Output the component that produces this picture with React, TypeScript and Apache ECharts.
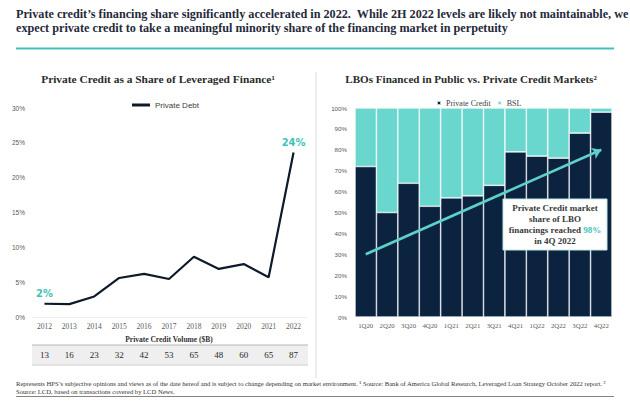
import React, { useEffect, useRef } from "react";
import * as echarts from "echarts";

const years = ["2012", "2013", "2014", "2015", "2016", "2017", "2018", "2019", "2020", "2021", "2022"];
const shareValues = [1.9, 1.85, 2.95, 5.6, 6.2, 5.45, 8.65, 6.9, 7.6, 5.7, 23.6];
const volumes = ["13", "16", "23", "32", "42", "53", "65", "48", "60", "65", "87"];
const quarters = ["1Q20", "2Q20", "3Q20", "4Q20", "1Q21", "2Q21", "3Q21", "4Q21", "1Q22", "2Q22", "3Q22", "4Q22"];
const privateCredit = [72, 50, 64, 53, 57, 58, 63, 79, 77, 76, 88, 98];
const bsl = [28, 50, 36, 47, 43, 42, 37, 21, 23, 24, 12, 2];
const trendStart = 30;
const trendEnd = 80;

const SERIF = "'Liberation Serif', serif";
const SANS = "'Liberation Sans', sans-serif";
const NAVY = "#0c2340";
const TEAL = "#6ad7ce";
const TEAL_TXT = "#3fc2b7";
const GRAY = "#595959";

export default function App() {
  const ref = useRef<HTMLDivElement>(null);
  useEffect(() => {
    const chart = echarts.init(ref.current!, null, { renderer: "svg" });
    const lastIdx = shareValues.length - 1;
    const lineData = shareValues.map((v, i) => {
      if (i === 0 || i === lastIdx) {
        return {
          value: v,
          label: {
            show: true,
            position: "top",
            distance: 5,
            formatter: (p: any) => Math.round(p.value) + "%",
            color: TEAL_TXT,
            fontFamily: "'DejaVu Sans Condensed', 'DejaVu Sans', sans-serif",
            fontWeight: "bold",
            fontSize: 11,
          },
        };
      }
      return v;
    });
    const option: any = {
      animation: false,
      backgroundColor: "#ffffff",
      legend: [
        {
          data: ["Private Debt"],
          left: 127,
          top: 96,
          icon: "rect",
          itemWidth: 18,
          itemHeight: 3,
          textStyle: { fontFamily: SANS, fontSize: 8, color: "#404040" },
        },
        {
          data: ["Private Credit", "BSL"],
          left: 431,
          top: 94,
          icon: "rect",
          itemWidth: 4,
          itemHeight: 4,
          itemGap: 6,
          textStyle: { fontFamily: SERIF, fontSize: 8, color: "#404040" },
        },
      ],
      grid: [
        { left: 32, width: 274, top: 108, bottom: 87 },
        { left: 355, width: 257, top: 108, bottom: 87 },
      ],
      xAxis: [
        {
          type: "category",
          gridIndex: 0,
          data: years,
          z: 10,
          axisTick: { show: false },
          axisLine: { show: true, lineStyle: { color: "#eeeeee" } },
          axisLabel: { fontFamily: SERIF, fontSize: 7.5, color: GRAY, margin: 5 },
          name: "Private Credit Volume ($B)",
          nameLocation: "middle",
          nameGap: 18,
          nameTextStyle: { fontFamily: SERIF, fontSize: 7.5, fontWeight: "bold", color: "#333333" },
        },
        {
          type: "category",
          gridIndex: 0,
          data: volumes,
          position: "bottom",
          offset: 30,
          z: 10,
          axisTick: { show: false },
          axisLine: { show: false },
          axisLabel: { fontFamily: SERIF, fontSize: 9, color: "#2a2a2a", margin: 3 },
        },
        {
          type: "category",
          gridIndex: 1,
          data: quarters,
          axisTick: { show: false },
          axisLine: { show: false },
          axisLabel: { fontFamily: SERIF, fontSize: 6.8, color: GRAY, margin: 5 },
        },
      ],
      yAxis: [
        {
          type: "value",
          gridIndex: 0,
          min: 0,
          max: 30,
          interval: 5,
          axisLabel: { formatter: "{value}%", fontFamily: SANS, fontSize: 6.5, color: GRAY, margin: 7 },
          splitLine: { show: false },
          axisLine: { show: false },
          axisTick: { show: false },
        },
        {
          type: "value",
          gridIndex: 1,
          min: 0,
          max: 100,
          interval: 10,
          axisLabel: { formatter: "{value}%", fontFamily: SANS, fontSize: 6.2, color: GRAY, margin: 8 },
          splitLine: { show: false },
          axisLine: { show: false },
          axisTick: { show: false },
        },
      ],
      series: [
        {
          name: "Private Debt",
          type: "line",
          xAxisIndex: 0,
          yAxisIndex: 0,
          data: lineData,
          symbol: "circle",
          symbolSize: 0.01,
          showSymbol: true,
          color: "#0e1a2b",
          lineStyle: { color: "#0e1a2b", width: 2.2 },
          z: 5,
        },
        {
          name: "Private Credit",
          type: "bar",
          xAxisIndex: 2,
          yAxisIndex: 1,
          stack: "lbo",
          data: privateCredit,
          barCategoryGap: "0%",
          color: NAVY,
          itemStyle: { color: NAVY, borderColor: "rgba(255,255,255,0.75)", borderWidth: 0.7 },
          markLine: {
            silent: true,
            symbol: ["none", "arrow"],
            symbolSize: [9, 9],
            label: { show: false },
            lineStyle: { color: "#5fd0c8", width: 2.6, type: "solid" },
            data: [[{ coord: [quarters[0], trendStart] }, { coord: [quarters[quarters.length - 1], trendEnd] }]],
            z: 6,
          },
        },
        {
          name: "BSL",
          type: "bar",
          xAxisIndex: 2,
          yAxisIndex: 1,
          stack: "lbo",
          data: bsl,
          barCategoryGap: "0%",
          color: TEAL,
          itemStyle: { color: TEAL, borderColor: "rgba(255,255,255,0.75)", borderWidth: 0.7 },
        },
      ],
      graphic: [
        {
          type: "text",
          left: 16,
          top: 7,
          z: 100,
          style: {
            text:
              "Private credit\u2019s financing share significantly accelerated in 2022.  While 2H 2022 levels are likely not maintainable, we\nexpect private credit to take a meaningful minority share of the financing market in perpetuity",
            fontFamily: SERIF,
            fontWeight: "bold",
            fontSize: 12.2,
            lineHeight: 14,
            fill: "#1f2a3a",
          },
        },
        {
          type: "rect",
          z: 100,
          shape: { x: 16, y: 47.5, width: 598, height: 2 },
          style: { fill: "#45bfb8" },
        },
        {
          type: "line",
          z: 100,
          shape: { x1: 316, y1: 72, x2: 316, y2: 378 },
          style: { stroke: "#dcdcdc", lineWidth: 1 },
        },
        {
          type: "text",
          z: 100,
          x: 158,
          y: 79,
          style: {
            text: "Private Credit as a Share of Leveraged Finance\u00b9",
            fontFamily: SERIF,
            fontWeight: "bold",
            fontSize: 11.4,
            fill: "#2b2b2b",
            align: "center",
            verticalAlign: "middle",
          },
        },
        {
          type: "text",
          z: 100,
          x: 471,
          y: 79,
          style: {
            text: "LBOs Financed in Public vs. Private Credit Markets\u00b2",
            fontFamily: SERIF,
            fontWeight: "bold",
            fontSize: 11.1,
            fill: "#2b2b2b",
            align: "center",
            verticalAlign: "middle",
          },
        },
        {
          type: "rect",
          z: 0,
          shape: { x: 32, y: 345, width: 276, height: 20 },
          style: { fill: "#efefef" },
        },
        {
          type: "line",
          z: 0,
          shape: { x1: 32, y1: 345, x2: 308, y2: 345 },
          style: { stroke: "#b8b8b8", lineWidth: 1 },
        },
        {
          type: "line",
          z: 0,
          shape: { x1: 32, y1: 365, x2: 308, y2: 365 },
          style: { stroke: "#dddddd", lineWidth: 1.5 },
        },
        {
          type: "rect",
          z: 100,
          shape: { x: 503, y: 199, width: 104, height: 51 },
          style: { fill: "#ffffff", stroke: "#bfe7e3", lineWidth: 1 },
        },
        {
          type: "text",
          z: 101,
          x: 555,
          y: 202,
          style: {
            text: "{a|Private Credit market}\n{a|share of LBO}\n{a|financings reached }{b|98%}\n{a|in 4Q 2022}",
            align: "center",
            rich: {
              a: { fontFamily: SERIF, fontWeight: "bold", fontSize: 9, fill: "#3a3a3a", lineHeight: 11 },
              b: { fontFamily: SERIF, fontWeight: "bold", fontSize: 9, fill: TEAL_TXT, lineHeight: 11 },
            },
          },
        },
        {
          type: "text",
          z: 100,
          left: 16,
          top: 380,
          style: {
            text:
              "Represents HPS\u2019s subjective opinions and views as of the date hereof and is subject to change depending on market environment. \u00b9 Source: Bank of America Global Research, Leveraged Loan Strategy October 2022 report. \u00b2\nSource: LCD, based on transactions covered by LCD News.",
            fontFamily: SERIF,
            fontSize: 6.6,
            lineHeight: 7.5,
            fill: "#333333",
          },
        },
        {
          type: "line",
          z: 100,
          shape: { x1: 16, y1: 396.5, x2: 614, y2: 396.5 },
          style: { stroke: "#666666", lineWidth: 0.8 },
        },
      ],
    };
    chart.setOption(option);
    return () => chart.dispose();
  }, []);
  return (
    <div
      ref={ref}
      style={{ position: "fixed", left: 0, top: 0, width: 630, height: 404, background: "#fff" }}
    />
  );
}
